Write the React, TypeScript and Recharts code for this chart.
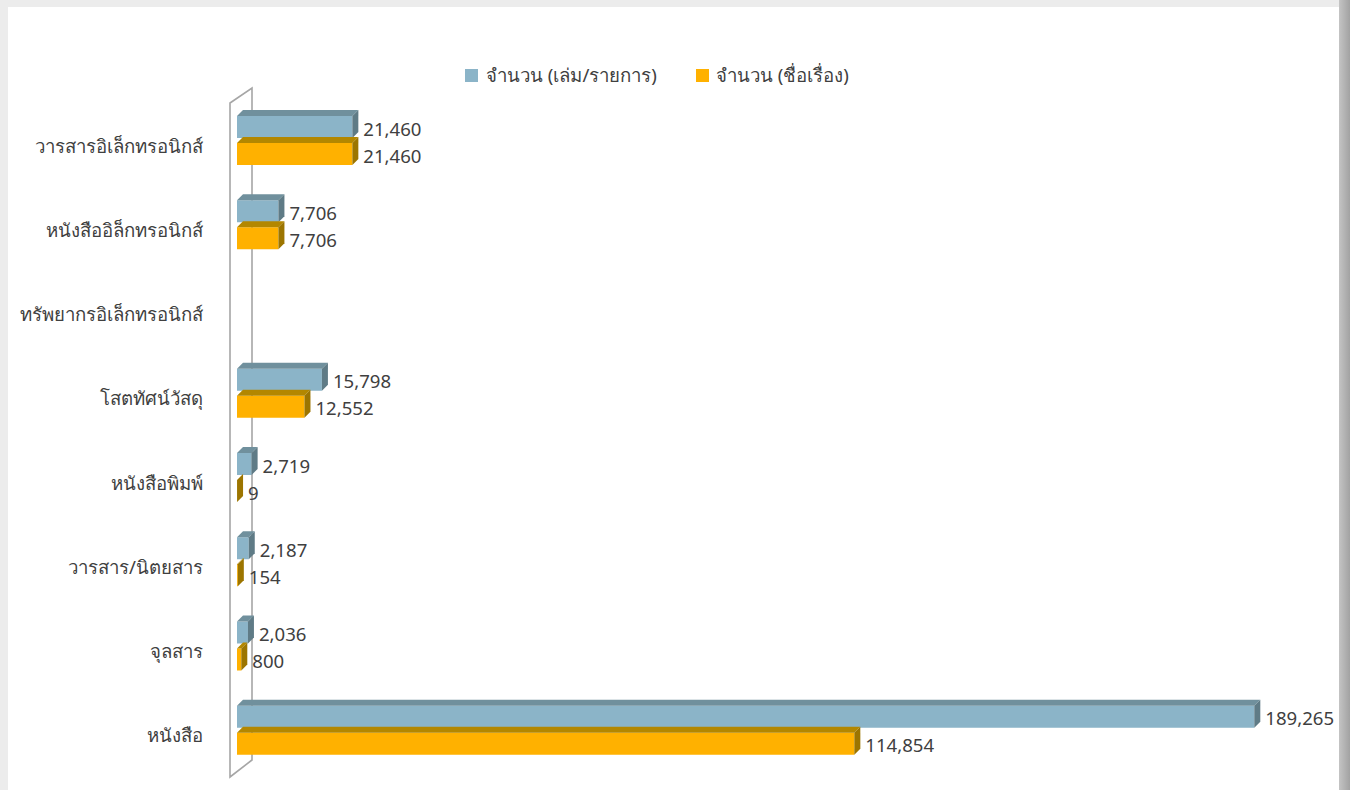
import React from 'react';
import { BarChart, Bar, XAxis, YAxis, CartesianGrid, Legend, LabelList } from 'recharts';

const categories = [
  'วารสารอิเล็กทรอนิกส์',
  'หนังสืออิล็กทรอนิกส์',
  'ทรัพยากรอิเล็กทรอนิกส์',
  'โสตทัศน์วัสดุ',
  'หนังสือพิมพ์',
  'วารสาร/นิตยสาร',
  'จุลสาร',
  'หนังสือ',
];
const itemCounts: (number | null)[] = [21460, 7706, null, 15798, 2719, 2187, 2036, 189265];
const titleCounts: (number | null)[] = [21460, 7706, null, 12552, 9, 154, 800, 114854];
const seriesNames = ['จำนวน (เล่ม/รายการ)', 'จำนวน (ชื่อเรื่อง)'];

const data = categories.map((name, i) => ({ name, items: itemCounts[i], titles: titleCounts[i] }));

const FONT = "Tahoma, 'Noto Sans', 'DejaVu Sans', sans-serif";
const FS = 18.6;
const DEPTH = 6;

const palette = {
  items: { front: '#8BB4C8', top: '#70909D', side: '#5F7B86' },
  titles: { front: '#FFB100', top: '#B38700', side: '#9C7500' },
};

const makeShape = (c: { front: string; top: string; side: string }) => (props: any) => {
  const { x, y, width, height } = props;
  if (x == null || y == null) return null;
  const w = Math.max(width || 0, 0);
  const h = height;
  const d = DEPTH;
  return (
    <g>
      <rect x={x} y={y} width={w} height={h} fill={c.front} />
      <polygon points={`${x},${y} ${x + d},${y - d} ${x + w + d},${y - d} ${x + w},${y}`} fill={c.top} />
      <polygon points={`${x + w},${y} ${x + w + d},${y - d} ${x + w + d},${y + h - d} ${x + w},${y + h}`} fill={c.side} />
    </g>
  );
};

const renderLabel = (props: any) => {
  const { x, y, width, height, value } = props;
  if (value == null) return null;
  return (
    <text
      x={x + Math.max(width, 0) + DEPTH + 5}
      y={y + height / 2 + 1}
      dominantBaseline="central"
      fontSize={FS}
      fontFamily={FONT}
      fill="#404040"
    >
      {Number(value).toLocaleString('en-US')}
    </text>
  );
};

const CategoryTick = (props: any) => {
  const { x, y, payload } = props;
  return (
    <text x={x - 28} y={y + 5} textAnchor="end" dominantBaseline="central" fontSize={FS} fontFamily={FONT} fill="#404040">
      {payload.value}
    </text>
  );
};

const Wall = (props: any) => {
  const { x1, y1, y2 } = props;
  const bx = x1;
  const fx = x1 - 22;
  const d = `M${bx},${y1 - 10} L${bx},${y2 - 12} L${fx},${y2 + 5} L${fx},${y1 + 5} Z`;
  return <path key="wall" d={d} fill="none" stroke="#A6A6A6" strokeWidth={1.6} />;
};

const LegendContent = () => (
  <div style={{ display: 'flex', alignItems: 'center', marginLeft: 465, fontFamily: FONT, fontSize: FS, color: '#404040', lineHeight: '24px' }}>
    <span style={{ display: 'inline-block', width: 13, height: 13, background: palette.items.front, marginRight: 8 }} />
    <span style={{ marginRight: 39 }}>{seriesNames[0]}</span>
    <span style={{ display: 'inline-block', width: 13, height: 13, background: palette.titles.front, marginRight: 7 }} />
    <span>{seriesNames[1]}</span>
  </div>
);

export default function App() {
  return (
    <div style={{ position: 'absolute', left: 0, top: 0, width: 1350, height: 790, background: '#ececec', overflow: 'hidden' }}>
      <div style={{ position: 'absolute', left: 1339, top: 0, width: 11, height: 790, background: 'linear-gradient(to right, #c4c4c4, #a2a2a2)' }} />
      <div style={{ position: 'absolute', left: 8, top: 7, width: 1331, height: 800, background: '#ffffff' }} />
      <div style={{ position: 'absolute', left: 0, top: 0 }}>
        <BarChart
          width={1350}
          height={790}
          data={data}
          layout="vertical"
          margin={{ top: 74, right: 38, bottom: 18, left: 37 }}
          barSize={22}
          barGap={5}
        >
          <CartesianGrid
            horizontal={false}
            vertical={Wall}
            verticalCoordinatesGenerator={({ offset }: any) => [offset.left + 15]}
          />
          <XAxis type="number" domain={[0, 200000]} hide />
          <YAxis
            type="category"
            dataKey="name"
            width={200}
            axisLine={false}
            tickLine={false}
            tick={<CategoryTick />}
            tickMargin={0}
            interval={0}
          />
          <Legend verticalAlign="top" height={24} wrapperStyle={{ top: 63, left: 0, width: 1350 }} content={<LegendContent />} />
          <Bar dataKey="items" name={seriesNames[0]} fill={palette.items.front} shape={makeShape(palette.items)} isAnimationActive={false}>
            <LabelList dataKey="items" content={renderLabel} />
          </Bar>
          <Bar dataKey="titles" name={seriesNames[1]} fill={palette.titles.front} shape={makeShape(palette.titles)} isAnimationActive={false}>
            <LabelList dataKey="titles" content={renderLabel} />
          </Bar>
        </BarChart>
      </div>
    </div>
  );
}
